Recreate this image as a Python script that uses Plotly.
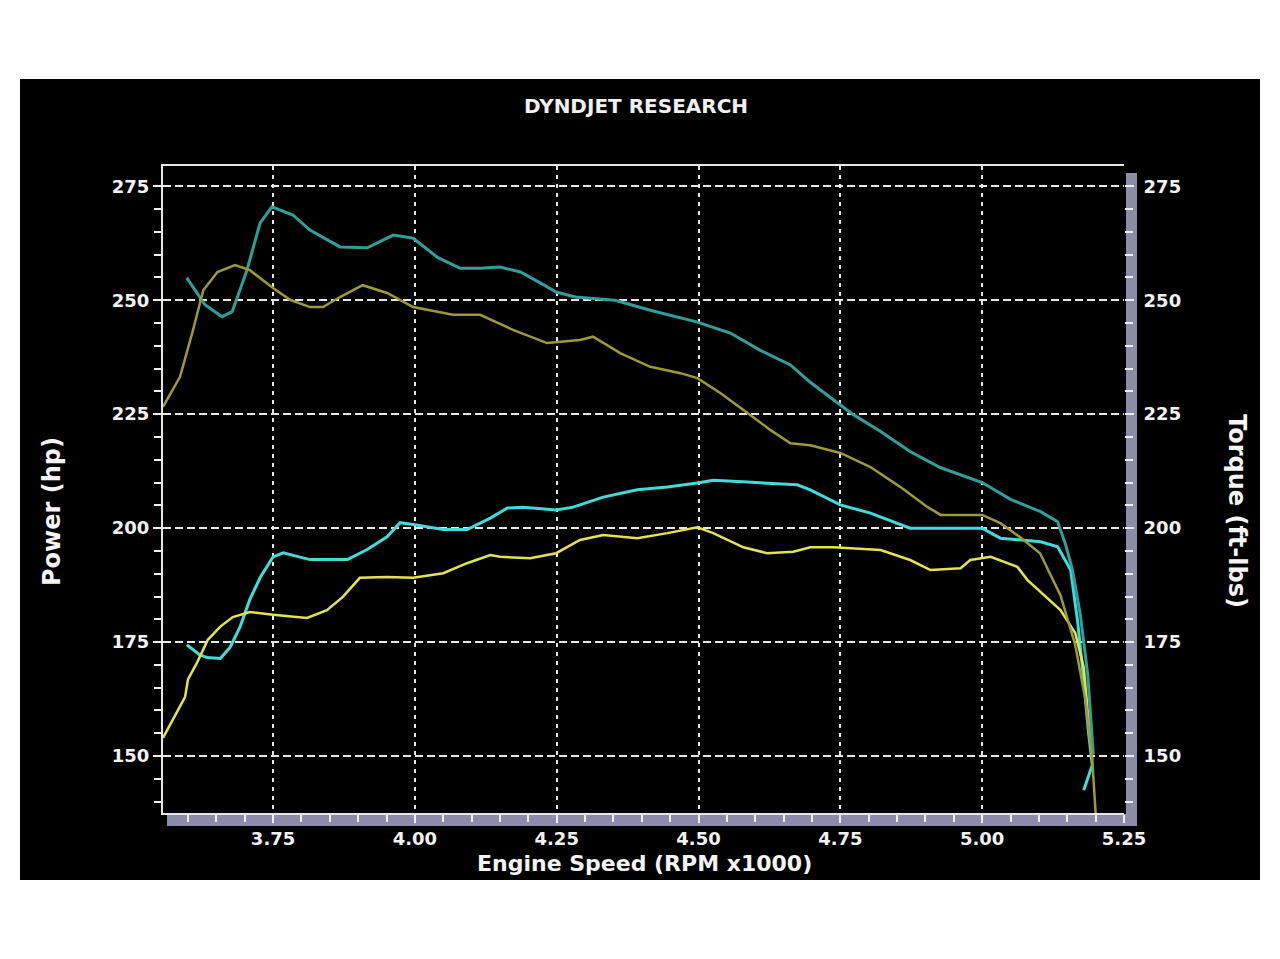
import plotly.graph_objects as go

# ---------------- data ----------------
rpm_ticks = [3.75, 4.00, 4.25, 4.50, 4.75, 5.00, 5.25]
rpm_tick_labels = ["3.75", "4.00", "4.25", "4.50", "4.75", "5.00", "5.25"]
val_ticks = [150, 175, 200, 225, 250, 275]
val_tick_labels = ["150", "175", "200", "225", "250", "275"]

# Torque run A (upper, dark teal)
tq_a_rpm = [3.598, 3.630, 3.660, 3.678, 3.704, 3.727, 3.748, 3.785, 3.815, 3.868,
            3.916, 3.962, 3.997, 4.040, 4.080, 4.115, 4.150, 4.186, 4.221, 4.249,
            4.283, 4.353, 4.415, 4.498, 4.556, 4.609, 4.662, 4.697, 4.750, 4.773,
            4.821, 4.873, 4.926, 5.000, 5.050, 5.103, 5.133, 5.147, 5.159, 5.173,
            5.186, 5.193, 5.196]
tq_a_val = [254.9, 249.0, 246.4, 247.5, 256.6, 266.9, 270.5, 268.7, 265.4, 261.7,
            261.5, 264.3, 263.6, 259.4, 257.0, 257.0, 257.3, 256.2, 253.8, 251.8,
            250.7, 250.0, 247.8, 245.2, 242.8, 239.0, 235.8, 232.0, 227.0, 224.9,
            221.2, 216.8, 213.3, 210.0, 206.3, 203.6, 201.4, 196.4, 190.9, 181.0,
            167.9, 156.9, 150.3]

# Torque run B (lower, olive)
tq_b_rpm = [3.556, 3.586, 3.609, 3.627, 3.652, 3.683, 3.709, 3.750, 3.780, 3.815,
            3.838, 3.868, 3.908, 3.951, 3.997, 4.067, 4.115, 4.173, 4.233, 4.291,
            4.314, 4.362, 4.415, 4.468, 4.498, 4.539, 4.587, 4.627, 4.662, 4.697,
            4.750, 4.803, 4.856, 4.904, 4.927, 5.000, 5.032, 5.067, 5.102, 5.138,
            5.164, 5.182, 5.194, 5.200]
tq_b_val = [226.6, 233.2, 243.5, 252.2, 256.2, 257.7, 256.6, 252.7, 250.1, 248.5,
            248.5, 250.7, 253.3, 251.6, 248.5, 246.8, 246.8, 243.5, 240.6, 241.3,
            242.0, 238.4, 235.4, 234.0, 232.9, 229.6, 225.2, 221.5, 218.6, 218.2,
            216.5, 213.4, 209.0, 204.6, 202.9, 202.9, 201.1, 198.0, 194.5, 185.3,
            174.4, 162.3, 149.2, 137.5]

# Power run A (upper, cyan)
hp_a_rpm = [3.598, 3.621, 3.634, 3.657, 3.674, 3.692, 3.709, 3.727, 3.750, 3.768,
            3.815, 3.881, 3.916, 3.951, 3.974, 3.997, 4.050, 4.092, 4.133, 4.163,
            4.191, 4.249, 4.279, 4.332, 4.392, 4.445, 4.498, 4.526, 4.586, 4.674,
            4.697, 4.750, 4.803, 4.856, 4.873, 5.000, 5.032, 5.103, 5.133, 5.156,
            5.168, 5.179, 5.187, 5.194, 5.179]
hp_a_val = [174.4, 172.2, 171.6, 171.4, 173.8, 178.4, 184.3, 189.1, 193.7, 194.6,
            193.1, 193.1, 195.3, 198.1, 201.2, 200.8, 199.7, 199.7, 202.2, 204.4,
            204.6, 204.0, 204.6, 206.8, 208.4, 209.0, 209.9, 210.5, 210.1, 209.5,
            208.4, 205.1, 203.3, 200.7, 200.0, 200.0, 197.8, 197.0, 195.9, 190.8,
            179.8, 166.6, 155.7, 148.0, 142.5]

# Power run B (lower, yellow)
hp_b_rpm = [3.556, 3.574, 3.595, 3.600, 3.616, 3.635, 3.657, 3.679, 3.709, 3.750,
            3.810, 3.845, 3.873, 3.903, 3.951, 3.997, 4.050, 4.092, 4.133, 4.150,
            4.203, 4.249, 4.291, 4.332, 4.392, 4.445, 4.498, 4.526, 4.579, 4.621,
            4.667, 4.697, 4.738, 4.821, 4.873, 4.909, 4.962, 4.979, 5.015, 5.062,
            5.080, 5.138, 5.164, 5.179, 5.187, 5.194]
hp_b_val = [154.0, 158.0, 163.0, 166.8, 170.5, 175.5, 178.4, 180.5, 181.6, 181.0,
            180.3, 182.0, 184.9, 189.1, 189.3, 189.1, 190.1, 192.3, 194.1, 193.7,
            193.4, 194.5, 197.4, 198.5, 197.8, 198.9, 200.2, 198.9, 195.8, 194.5,
            194.8, 195.8, 195.8, 195.2, 193.0, 190.8, 191.2, 193.0, 193.7, 191.5,
            188.6, 182.0, 177.0, 169.5, 159.5, 149.2]

# ---------------- layout helpers ----------------
W, H = 1280, 959
PL, PR, PT, PB = 163, 1124, 166, 813   # plot area in pixels
pw, ph = PR - PL, PB - PT


def xp(px):
    return (px - PL) / pw


def yp(py):
    return (PB - py) / ph


X_RANGE = [3.556, 5.25]
Y_RANGE = [137.5, 279.45]

TEAL = "#2f9f9c"
OLIVE = "#9c9a34"
CYAN = "#3fdcdc"
YELLOW = "#e4e44a"
GRID = "#e6e6e6"
BAR = "#8c8ca8"
FONT = "DejaVu Sans"

fig = go.Figure()
fig.add_trace(go.Scatter(x=tq_a_rpm, y=tq_a_val, mode="lines", yaxis="y2",
                         line=dict(color=TEAL, width=3), name="Torque A"))
fig.add_trace(go.Scatter(x=tq_b_rpm, y=tq_b_val, mode="lines", yaxis="y2",
                         line=dict(color=OLIVE, width=2.5), name="Torque B"))
fig.add_trace(go.Scatter(x=hp_a_rpm, y=hp_a_val, mode="lines",
                         line=dict(color=CYAN, width=3), name="Power A"))
fig.add_trace(go.Scatter(x=hp_b_rpm, y=hp_b_val, mode="lines",
                         line=dict(color=YELLOW, width=2.5), name="Power B"))

tickfont = dict(family=FONT, size=18, color="#f2f2f2", weight=700)

fig.update_layout(
    width=W, height=H,
    margin=dict(l=PL, r=W - PR, t=PT, b=H - PB, pad=0),
    paper_bgcolor="white",
    plot_bgcolor="black",
    showlegend=False,
    xaxis=dict(
        range=X_RANGE, tickmode="array", tickvals=rpm_ticks, ticktext=rpm_tick_labels,
        showgrid=True, gridcolor=GRID, gridwidth=2, griddash="4px,5px",
        zeroline=False, showline=True, linecolor=GRID, linewidth=2, mirror=True,
        ticks="outside", ticklen=8, tickwidth=2, tickcolor="#eeeeee",
        minor=dict(dtick=0.05, tick0=3.75, ticks="outside", ticklen=7,
                   tickwidth=2, tickcolor="#eeeeee", showgrid=False),
        tickfont=tickfont, ticklabelstandoff=0,
    ),
    yaxis=dict(
        range=Y_RANGE, tickmode="array", tickvals=val_ticks, ticktext=val_tick_labels,
        showgrid=True, gridcolor=GRID, gridwidth=2, griddash="8px,4px",
        zeroline=False, showline=True, linecolor=GRID, linewidth=2,
        ticks="outside", ticklen=8, tickwidth=2, tickcolor="#eeeeee",
        minor=dict(dtick=5, tick0=150, ticks="outside", ticklen=7,
                   tickwidth=2, tickcolor="#eeeeee", showgrid=False),
        tickfont=tickfont,
    ),
    yaxis2=dict(
        range=Y_RANGE, overlaying="y", side="right",
        tickmode="array", tickvals=val_ticks, ticktext=val_tick_labels,
        showgrid=False, zeroline=False, showline=False,
        ticks="outside", ticklen=9, tickwidth=2, tickcolor="#eeeeee",
        minor=dict(dtick=5, tick0=150, ticks="outside", ticklen=8,
                   tickwidth=2, tickcolor="#eeeeee", showgrid=False),
        tickfont=tickfont, ticklabelstandoff=6,
    ),
    shapes=[
        # black panel behind the chart
        dict(type="rect", xref="paper", yref="paper", layer="below",
             x0=xp(20), x1=xp(1260), y0=yp(880), y1=yp(79),
             fillcolor="black", line=dict(width=0)),
        # right 3-D bar
        dict(type="rect", xref="paper", yref="paper", layer="below",
             x0=xp(1126), x1=xp(1137), y0=yp(826), y1=yp(173),
             fillcolor=BAR, line=dict(width=0)),
        # bottom 3-D bar
        dict(type="rect", xref="paper", yref="paper", layer="below",
             x0=xp(167), x1=xp(1137), y0=yp(826), y1=yp(814),
             fillcolor=BAR, line=dict(width=0)),
    ],
    annotations=[
        dict(text="DYNDJET RESEARCH", xref="paper", yref="paper",
             x=xp(636), y=yp(106), showarrow=False, xanchor="center", yanchor="middle",
             font=dict(family=FONT, size=20, color="#f0f0f0", weight=700)),
        dict(text="Engine Speed (RPM x1000)", xref="paper", yref="paper",
             x=xp(644), y=yp(863), showarrow=False, xanchor="center", yanchor="middle",
             font=dict(family=FONT, size=22, color="#f4f4f4", weight=700)),
        dict(text="Power (hp)", xref="paper", yref="paper",
             x=xp(52), y=yp(512), showarrow=False, textangle=-90,
             xanchor="center", yanchor="middle",
             font=dict(family=FONT, size=24, color="#f4f4f4", weight=700)),
        dict(text="Torque (ft-lbs)", xref="paper", yref="paper",
             x=xp(1237), y=yp(511), showarrow=False, textangle=90,
             xanchor="center", yanchor="middle",
             font=dict(family=FONT, size=24, color="#f4f4f4", weight=700)),
    ],
)

fig.write_html("out.html")
